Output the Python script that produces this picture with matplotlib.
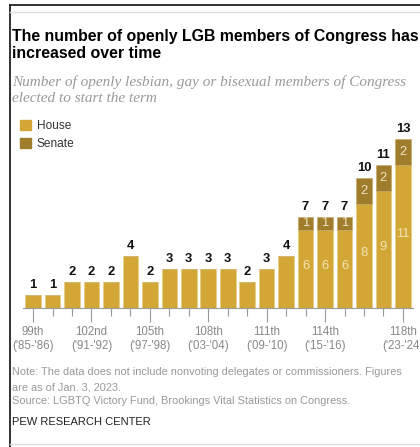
import matplotlib
matplotlib.use("Agg")
import matplotlib.pyplot as plt
from matplotlib.lines import Line2D
from matplotlib.patches import Patch

congresses = ["99th", "100th", "101st", "102nd", "103rd", "104th", "105th", "106th", "107th", "108th",
              "109th", "110th", "111th", "112th", "113th", "114th", "115th", "116th", "117th", "118th"]
house = [1, 1, 2, 2, 2, 4, 2, 3, 3, 3, 3, 2, 3, 4, 6, 6, 6, 8, 9, 11]
senate = [0, 0, 0, 0, 0, 0, 0, 0, 0, 0, 0, 0, 0, 0, 1, 1, 1, 2, 2, 2]
tick_idx = [0, 3, 6, 9, 12, 15, 19]
tick_labels = ["99th\n('85-'86)", "102nd\n('91-'92)", "105th\n('97-'98)", "108th\n('03-'04)",
               "111th\n('09-'10)", "114th\n('15-'16)", "118th\n('23-'24)"]

HOUSE_C = "#D2A736"
SENATE_C = "#A07D2D"
FONT = "Liberation Sans"

W, H = 420, 447
fig = plt.figure(figsize=(W / 100, H / 100), dpi=100)

def fx(px):
    return px / W

def fy(py):
    return 1 - py / H

# frame lines
fig.add_artist(Line2D([fx(10), fx(10)], [fy(5), fy(447)], color="#222222", lw=1.3))
fig.add_artist(Line2D([fx(10), 1], [fy(5), fy(5)], color="#222222", lw=1.3))
fig.add_artist(Line2D([fx(10), 1], [fy(12), fy(12)], color="#dddddd", lw=1.0))
fig.add_artist(Line2D([fx(10), 1], [fy(444), fy(444)], color="#dddddd", lw=1.0))

fig.text(fx(12), fy(36), "The number of openly LGB members of Congress has",
         family=FONT, weight="bold", fontsize=11.4, va="center", ha="left", color="#000000")
fig.text(fx(12), fy(53), "increased over time",
         family=FONT, weight="bold", fontsize=11.4, va="center", ha="left", color="#000000")
fig.text(fx(12), fy(82), "Number of openly lesbian, gay or bisexual members of Congress",
         family="Liberation Serif", style="italic", fontsize=11.0, va="center", ha="left",
         color="#999999")
fig.text(fx(12), fy(99), "elected to start the term",
         family="Liberation Serif", style="italic", fontsize=11.0, va="center", ha="left",
         color="#999999")

ax = fig.add_axes([fx(23.3), 139 / H, (412.7 - 23.3) / W, 182 / H])
x = list(range(len(congresses)))
ax.bar(x, house, width=0.8, color=HOUSE_C, edgecolor="#E6CC85", linewidth=0.4)
ax.bar(x, senate, bottom=house, width=0.8, color=SENATE_C, edgecolor="#C2A460", linewidth=0.4)
ax.set_xlim(-0.5, 19.5)
ax.set_ylim(0, 14)

for i in x:
    tot = house[i] + senate[i]
    ax.text(i, tot + 0.3, str(tot), ha="center", va="bottom", family=FONT,
            weight="bold", fontsize=9.4, color="#111111")
    if senate[i] > 0:
        ax.text(i, house[i] / 2 + 0.2, str(house[i]), ha="center", va="center",
                family=FONT, fontsize=9.4, color="#F3E4B5")
        ax.text(i, house[i] + senate[i] / 2, str(senate[i]), ha="center", va="center",
                family=FONT, fontsize=9.4, color="#EFE2C0")

for s in ["top", "right", "left"]:
    ax.spines[s].set_visible(False)
ax.spines["bottom"].set_color("#999999")
ax.spines["bottom"].set_linewidth(0.8)
ax.set_yticks([])
ax.set_xticks(tick_idx)
ax.set_xticklabels(tick_labels, family=FONT, fontsize=8.3, color="#888888", linespacing=1.2)
ax.set_xticks(x, minor=True)
ax.tick_params(axis="x", which="major", length=10, width=0.8, color="#999999", pad=3)
ax.tick_params(axis="x", which="minor", length=6, width=0.8, color="#999999")

handles = [Patch(color=HOUSE_C, label="House"), Patch(color=SENATE_C, label="Senate")]
leg = fig.legend(handles=handles, loc="upper left", bbox_to_anchor=(fx(20), fy(120)),
                 frameon=False, handlelength=0.9, handleheight=0.9, handletextpad=0.5,
                 labelspacing=0.5, borderpad=0, borderaxespad=0,
                 prop={"family": FONT, "size": 8.6})
for t in leg.get_texts():
    t.set_color("#333333")

fig.text(fx(12), fy(372), "Note: The data does not include nonvoting delegates or commissioners. Figures",
         family=FONT, fontsize=7.9, color="#999999", va="center", ha="left")
fig.text(fx(12), fy(387), "are as of Jan. 3, 2023.",
         family=FONT, fontsize=7.9, color="#999999", va="center", ha="left")
fig.text(fx(12), fy(401), "Source: LGBTQ Victory Fund, Brookings Vital Statistics on Congress.",
         family=FONT, fontsize=7.9, color="#999999", va="center", ha="left")
fig.text(fx(12), fy(422), "PEW RESEARCH CENTER", family=FONT, fontsize=8.0,
         color="#222222", va="center", ha="left")

fig.savefig("out.png", dpi=100)
